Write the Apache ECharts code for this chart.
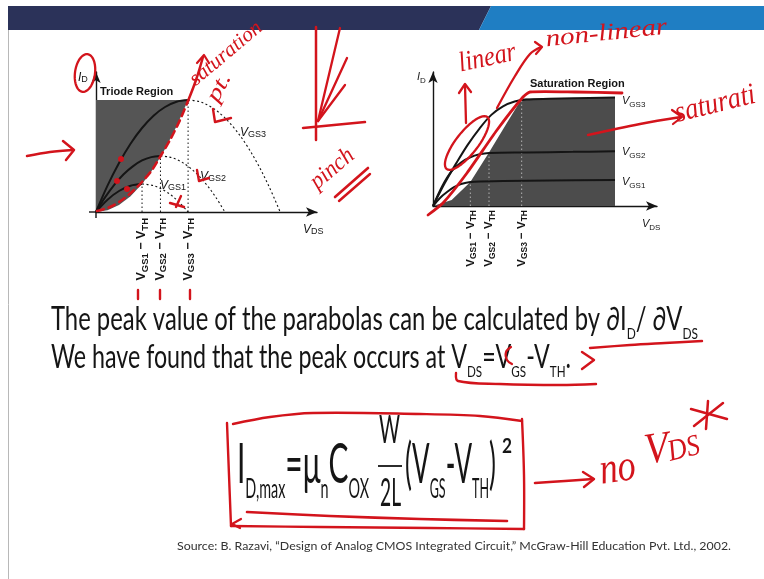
<!DOCTYPE html>
<html>
<head>
<meta charset="utf-8">
<script src="https://cdn.jsdelivr.net/npm/echarts@6/dist/echarts.min.js"></script>
<style>
  html, body { margin: 0; padding: 0; background: #ffffff; }
  #chart { width: 764px; height: 579px; }
</style>
</head>
<body>
<div id="chart"></div>
<script>
// ---------- Left panel: triode-region parabolas (VDS, ID in arbitrary units) ----------
const triodeSolid1 = [[0, 0], [0.25, 0.44], [0.5, 0.75], [0.75, 0.94], [1.0, 1.0]];
const triodeDotted1 = [[1.0, 1.0], [1.25, 0.94], [1.5, 0.75], [1.75, 0.44], [2.0, 0]];
const triodeSolid2 = [[0, 0], [0.2, 0.53], [0.4, 0.98], [0.6, 1.35], [0.8, 1.63], [1.0, 1.84], [1.2, 1.96], [1.4, 2.0]];
const triodeDotted2 = [[1.4, 2.0], [1.6, 1.96], [1.8, 1.84], [2.0, 1.63], [2.2, 1.35], [2.4, 0.98], [2.6, 0.53], [2.8, 0]];
const triodeSolid3 = [[0, 0], [0.25, 0.94], [0.5, 1.75], [0.75, 2.44], [1.0, 3.0], [1.25, 3.44], [1.5, 3.75], [1.75, 3.94], [2.0, 4.0]];
const triodeDotted3 = [[2.0, 4.0], [2.25, 3.94], [2.5, 3.75], [2.75, 3.44], [3.0, 3.0], [3.25, 2.44], [3.5, 1.75], [3.75, 0.94], [4.0, 0]];
const triodePeaks = [[1.0, 1.0], [1.4, 2.0], [2.0, 4.0]];
// triode region: bounded by the peak locus and the top current level
const triodeShade = [[0, 0], [0.25, 0.06], [0.5, 0.25], [0.75, 0.56], [1.0, 1.0], [1.25, 1.56], [1.5, 2.25], [1.75, 3.06], [2.0, 4.0], [0, 4.0]];

// ---------- Right panel: output characteristics with saturation region ----------
const satCurve1 = [[0, 0], [0.15, 0.3], [0.3, 0.52], [0.45, 0.7], [0.6, 0.82], [0.8, 0.9], [1.5, 0.93], [2.5, 0.95], [3.9, 0.97]];
const satCurve2 = [[0, 0], [0.2, 0.75], [0.4, 1.3], [0.6, 1.62], [0.8, 1.82], [1.0, 1.93], [1.2, 1.98], [2.0, 2.0], [3.0, 2.02], [3.9, 2.04]];
const satCurve3 = [[0, 0], [0.25, 0.85], [0.5, 1.6], [0.75, 2.3], [1.0, 2.9], [1.25, 3.4], [1.5, 3.72], [1.75, 3.9], [2.0, 3.97], [2.5, 4.0], [3.0, 4.02], [3.9, 4.05]];
const satKnees = [[0.8, 0.9], [1.2, 2.0], [1.9, 4.0]];
const satShade = [[0, 0], [0.4, 0.22], [0.8, 0.9], [1.2, 2.0], [1.55, 3.0], [1.9, 4.0], [3.9, 4.05], [3.9, 0]];

// ---------- Labels ----------
const overdriveLabels = ['{v|V}{s|GS1}{v| \u2212 V}{s|TH}', '{v|V}{s|GS2}{v| \u2212 V}{s|TH}', '{v|V}{s|GS3}{v| \u2212 V}{s|TH}'];
const gateLabels = ['GS1', 'GS2', 'GS3'];
const textLine1 = [['The peak value of the parabolas can be calculated by \u2202I', 'm'], ['D', 's'], ['/ \u2202V', 'm'], ['DS', 's']];
const textLine2 = [['We have found that the peak occurs at V', 'm'], ['DS', 's'], ['=V', 'm'], ['GS', 's'], ['-V', 'm'], ['TH', 's'], ['.', 'm']];
const formulaLeft = [['I', 'M'], ['D,max', 'S'], ['=\u03bc', 'M'], ['n', 'S'], ['C', 'M'], ['OX', 'S']];
const formulaRight = [['(V', 'M'], ['GS', 'S'], ['-V', 'M'], ['TH', 'S'], [')', 'M']];
const sourceText = 'Source: B. Razavi, \u201cDesign of Analog CMOS Integrated Circuit,\u201d McGraw-Hill Education Pvt. Ltd., 2002.';

const TEXT_FONT = 'Lato';
const CHART_FONT = 'Liberation Sans';
const HAND_FONT = 'Liberation Serif';
const RED = '#d3141c';
const INK = '#151515';

// ---------- text helpers ----------
const mctx = document.createElement('canvas').getContext('2d');
function textWidth(str, size, family, weight, style) {
  mctx.font = (style || 'normal') + ' ' + (weight || 'normal') + ' ' + size + 'px ' + family;
  return mctx.measureText(str).width;
}
// offset between canvas "middle" and the alphabetic baseline, per font (in em)
const MID = { 'Lato': 0.387, 'Liberation Sans': 0.347, 'Liberation Serif': 0.35 };

// a row of runs on one baseline, squeezed to span x0..x1
function runRow(runs, sizes, x0, x1, baseline, family, color) {
  const w = runs.map(r => textWidth(r[0], sizes[r[1]].size, family, sizes[r[1]].weight));
  const k = (x1 - x0) / w.reduce((a, b) => a + b, 0);
  let cx = x0;
  return runs.map((r, i) => {
    const s = sizes[r[1]];
    const el = {
      type: 'text', x: cx, y: baseline + (s.dy || 0) - MID[family] * s.size, scaleX: k, z: 10,
      style: { text: r[0], fontSize: s.size, fontFamily: family, fontWeight: s.weight || 'normal',
        fill: color, align: 'left', verticalAlign: 'middle' }
    };
    cx += w[i] * k;
    return el;
  });
}

// handwritten strokes
function hand(points, width, smooth) {
  return {
    type: 'polyline', z: 50, silent: true,
    shape: { points: points, smooth: smooth === undefined ? 0.35 : smooth },
    style: { stroke: RED, lineWidth: width || 2.5, lineCap: 'round', lineJoin: 'round', fill: null }
  };
}
function handDash(points) {
  const el = hand(points, 2.6, 0.3);
  el.style.lineDash = [7, 5];
  return el;
}
function handEllipse(cx, cy, rx, ry, rotDeg) {
  const a = rotDeg * Math.PI / 180;
  const pts = [];
  for (let i = 0; i <= 48; i++) {
    const t = i / 48 * 2 * Math.PI;
    const x = rx * Math.cos(t), y = ry * Math.sin(t);
    pts.push([cx + x * Math.cos(a) + y * Math.sin(a), cy - x * Math.sin(a) + y * Math.cos(a)]);
  }
  return hand(pts, 2.3, 0);
}
function handText(t, x, y, size, rotDeg, targetW) {
  const w = textWidth(t, size, HAND_FONT, 'normal', 'italic');
  return {
    type: 'text', x: x, y: y, rotation: rotDeg * Math.PI / 180, scaleX: targetW / w, z: 50, silent: true,
    style: { text: t, fontSize: size, fontFamily: HAND_FONT, fontStyle: 'italic', fill: RED,
      align: 'left', verticalAlign: 'bottom' }
  };
}
function dot(x, y) {
  return { type: 'circle', z: 50, shape: { cx: x, cy: y, r: 3 }, style: { fill: RED } };
}
function chartText(text, x, y, rich, align) {
  return { type: 'text', x: x, y: y, z: 12,
    style: { text: text, rich: rich, align: align || 'left', verticalAlign: 'middle' } };
}

// ---------- chart series ----------
function curve(gi, data, dotted, width) {
  return {
    type: 'line', xAxisIndex: gi, yAxisIndex: gi, data: data, showSymbol: false, silent: true,
    smooth: 0.35, z: 4, animation: false,
    lineStyle: { color: INK, width: width, type: dotted ? [2, 2.5] : 'solid' }
  };
}
function drop(gi, pt, color) {
  return {
    type: 'line', xAxisIndex: gi, yAxisIndex: gi, data: [[pt[0], 0], pt], showSymbol: false,
    silent: true, z: 3, lineStyle: { color: color, width: 1, type: [1.5, 2.5] }
  };
}
function region(gi, pts, fill) {
  return {
    type: 'custom', xAxisIndex: gi, yAxisIndex: gi, silent: true, z: 1, data: [[0, 0]],
    renderItem: function (params, api) {
      return { type: 'polygon', shape: { points: pts.map(p => api.coord(p)) }, style: { fill: fill } };
    }
  };
}
function overdriveTicks(gi, knees, gap, size, sub) {
  return {
    type: 'custom', xAxisIndex: gi, yAxisIndex: gi, silent: true, z: 5,
    data: knees.map((k, i) => [k[0], 0, i]),
    renderItem: function (params, api) {
      const p = api.coord([api.value(0), 0]);
      return {
        type: 'text', x: p[0], y: p[1] + gap, rotation: Math.PI / 2,
        style: {
          text: overdriveLabels[api.value(2)], align: 'right', verticalAlign: 'middle',
          rich: {
            v: { fontSize: size, fontWeight: 'bold', fontFamily: CHART_FONT, fill: INK, lineHeight: size + 4 },
            s: { fontSize: sub, fontWeight: 'bold', fontFamily: CHART_FONT, fill: INK, lineHeight: sub, verticalAlign: 'bottom' }
          }
        }
      };
    }
  };
}
function xAxisOf(gi) {
  return {
    type: 'value', gridIndex: gi, min: 0, max: 4.8,
    axisLine: { show: true, symbol: ['none', 'arrow'], symbolSize: [7, 11], lineStyle: { color: INK, width: 1.4 } },
    axisTick: { show: false }, axisLabel: { show: false }, splitLine: { show: false }
  };
}
function yAxisOf(gi) {
  return {
    type: 'value', gridIndex: gi, min: 0, max: 5,
    axisLine: { show: true, symbol: ['none', 'arrow'], symbolSize: [7, 11], lineStyle: { color: INK, width: 1.4 } },
    axisTick: { show: false }, axisLabel: { show: false }, splitLine: { show: false }
  };
}

// ---------- static graphics ----------
const labelRich = {
  v: { fontSize: 12, fontFamily: CHART_FONT, fontStyle: 'italic', fill: INK },
  s: { fontSize: 9, fontFamily: CHART_FONT, fill: INK, verticalAlign: 'bottom', lineHeight: 9 }
};
const labelRichSmall = {
  v: { fontSize: 11, fontFamily: CHART_FONT, fontStyle: 'italic', fill: INK, lineHeight: 15 },
  s: { fontSize: 8, fontFamily: CHART_FONT, fill: INK, verticalAlign: 'bottom', lineHeight: 8 }
};
const boldTitle = { t: { fontSize: 11, fontWeight: 'bold', fontFamily: CHART_FONT, fill: INK } };

const elements = [];

// banner and page border
elements.push({ type: 'polygon', z: 0, shape: { points: [[8, 6], [491, 6], [479, 30], [8, 30]] }, style: { fill: '#2b3259' } });
elements.push({ type: 'polygon', z: 0, shape: { points: [[491, 6], [764, 6], [764, 30], [479, 30]] }, style: { fill: '#1f7ec3' } });
elements.push({ type: 'line', z: 0, shape: { x1: 8.5, y1: 30, x2: 8.5, y2: 579 }, style: { stroke: '#b8b8b8', lineWidth: 1 } });

// short axis stubs past the origin of the left panel
elements.push({ type: 'line', z: 6, shape: { x1: 89, y1: 212, x2: 96, y2: 212 }, style: { stroke: INK, lineWidth: 1.4 } });
elements.push({ type: 'line', z: 6, shape: { x1: 96, y1: 212, x2: 96, y2: 218 }, style: { stroke: INK, lineWidth: 1.4 } });

// panel titles and axis names
elements.push(chartText('{t|Triode Region}', 100, 92, boldTitle));
elements.push(chartText('{t|Saturation Region}', 530, 84, boldTitle));
elements.push(chartText('{v|I}{s|D}', 78, 78, labelRich));
elements.push(chartText('{v|I}{s|D}', 417, 77, labelRichSmall));
elements.push(chartText('{v|V}{s|DS}', 303, 230, labelRich));
elements.push(chartText('{v|V}{s|DS}', 642, 224, labelRichSmall));
elements.push(chartText('{v|V}{s|' + gateLabels[2] + '}', 240, 133, labelRich));
elements.push(chartText('{v|V}{s|' + gateLabels[1] + '}', 200, 177, labelRich));
elements.push(chartText('{v|V}{s|' + gateLabels[0] + '}', 160, 186, labelRich));
elements.push(chartText('{v|V}{s|' + gateLabels[2] + '}', 622, 101, labelRichSmall));
elements.push(chartText('{v|V}{s|' + gateLabels[1] + '}', 622, 152, labelRichSmall));
elements.push(chartText('{v|V}{s|' + gateLabels[0] + '}', 622, 182, labelRichSmall));

// body text
const bodySizes = { m: { size: 32 }, s: { size: 16, dy: 8 } };
runRow(textLine1, bodySizes, 51, 698, 332, TEXT_FONT, INK).forEach(e => elements.push(e));
runRow(textLine2, bodySizes, 51, 571, 370, TEXT_FONT, INK).forEach(e => elements.push(e));

// formula
const fSizes = { M: { size: 56 }, S: { size: 27, dy: 13 }, F: { size: 38 }, P: { size: 20, weight: 'bold' } };
runRow(formulaLeft, fSizes, 237, 369, 487, TEXT_FONT, INK).forEach(e => elements.push(e));
runRow([['W', 'F']], fSizes, 379, 400, 445, TEXT_FONT, INK).forEach(e => elements.push(e));
runRow([['2L', 'F']], fSizes, 380, 401, 508, TEXT_FONT, INK).forEach(e => elements.push(e));
elements.push({ type: 'line', z: 10, shape: { x1: 378, y1: 466, x2: 402, y2: 466 }, style: { stroke: INK, lineWidth: 1.8 } });
runRow(formulaRight, fSizes, 405, 496, 487, TEXT_FONT, INK).forEach(e => elements.push(e));
runRow([['2', 'P']], fSizes, 502, 512, 454, TEXT_FONT, INK).forEach(e => elements.push(e));

// citation
runRow([[sourceText, 'c']], { c: { size: 12 } }, 177, 731, 551, TEXT_FONT, '#333333').forEach(e => elements.push(e));

// ---------- handwritten annotations ----------
// left panel
elements.push(handEllipse(85, 73, 10, 19, -8));
elements.push(hand([[27, 156], [50, 152], [73, 150]], 2.5));
elements.push(hand([[63, 141], [74, 150], [66, 160]], 2.5, 0));
elements.push(handDash([[97, 211], [110, 207], [122, 200], [133, 191], [142, 182], [152, 170], [160, 157], [170, 140], [180, 120], [188, 101]]));
elements.push(hand([[188, 101], [196, 80], [203, 57]], 2.5));
elements.push(hand([[197, 63], [204, 55], [209, 63]], 2.2, 0));
elements.push(dot(121, 159));
elements.push(dot(117, 181));
elements.push(dot(127, 189));
elements.push(hand([[213, 109], [215, 122], [231, 118]], 2.4, 0));
elements.push(hand([[197, 170], [199, 181], [209, 178]], 2.4, 0));
elements.push(hand([[181, 196], [176, 207]], 2.4, 0));
elements.push(hand([[170, 203], [184, 207]], 2.4, 0));
elements.push(hand([[138, 290], [138, 299]], 2.4, 0));
elements.push(hand([[160, 290], [160, 299]], 2.4, 0));
elements.push(hand([[190, 290], [190, 299]], 2.4, 0));
elements.push(handText('saturation', 199, 90, 21, 40, 88));
elements.push(handText('pt.', 222, 106, 22, 62, 30));

// pinch-off sketch between the panels
elements.push(hand([[316, 27], [316, 84], [316, 140]], 2.5, 0));
elements.push(hand([[303, 128], [334, 125], [365, 122]], 2.5, 0));
elements.push(hand([[318, 121], [340, 28]], 2.3, 0));
elements.push(hand([[318, 121], [347, 58]], 2.3, 0));
elements.push(hand([[318, 121], [345, 85]], 2.3, 0));
elements.push(handText('pinch', 321, 194, 24, 40, 50));
elements.push(hand([[335, 197], [368, 168]], 2.6, 0));
elements.push(hand([[339, 201], [370, 174]], 2.4, 0));

// right panel
elements.push(hand([[428, 215], [443, 203], [467, 173], [497, 130], [523, 97], [530, 92], [575, 92], [622, 93]], 2.8, 0.2));
elements.push(handEllipse(467, 143, 33, 11, 52));
elements.push(hand([[466, 123], [465, 85]], 2.3, 0));
elements.push(hand([[459, 93], [465, 84], [471, 92]], 2.3, 0));
elements.push(handText('linear', 462, 78, 28, 12, 58));
elements.push(hand([[497, 108], [515, 76], [530, 54], [541, 47]], 2.3));
elements.push(hand([[535, 42], [542, 47], [536, 54]], 2.2, 0));
elements.push(handText('non-linear', 547, 52, 24, 6, 122));
elements.push(hand([[588, 135], [640, 124], [681, 117]], 2.4));
elements.push(hand([[672, 110], [682, 117], [673, 124]], 2.2, 0));
elements.push(handText('saturati', 679, 129, 30, 14, 82));

// body text marks
elements.push(hand([[590, 348], [630, 345], [665, 343], [702, 341]], 2.4));
elements.push(hand([[511, 347], [506, 352], [507, 360], [512, 364]], 2.2));
elements.push(hand([[582, 352], [594, 360], [582, 369]], 2.4, 0));
elements.push(hand([[456, 373], [458, 381], [500, 384], [560, 385], [596, 384]], 2.4));

// formula box
elements.push(hand([[233, 424], [270, 417], [313, 413], [420, 414], [480, 416], [522, 421]], 2.4));
elements.push(hand([[227, 423], [229, 475], [231, 526]], 2.4));
elements.push(hand([[522, 419], [524, 475], [524, 529]], 2.4));
elements.push(hand([[231, 526], [320, 527], [430, 528], [524, 529]], 2.4));
elements.push(hand([[247, 512], [330, 516], [420, 519], [507, 521]], 2.6));
elements.push(hand([[241, 519], [232, 524], [240, 528]], 2.2, 0));

// "no VDS" note
elements.push(hand([[535, 483], [565, 481], [593, 479]], 2.6));
elements.push(hand([[583, 472], [594, 479], [584, 487]], 2.4, 0));
elements.push(handText('no', 603, 494, 44, 8, 36));
elements.push(handText('V', 648, 474, 44, 8, 24));
elements.push(handText('DS', 672, 468, 30, 14, 32));
elements.push(hand([[708, 401], [706, 429]], 2.5, 0));
elements.push(hand([[691, 409], [727, 419]], 2.5, 0));
elements.push(hand([[694, 426], [723, 403]], 2.5, 0));

// ---------- option ----------
const chart = echarts.init(document.getElementById('chart'), null, { renderer: 'canvas' });
chart.setOption({
  animation: false,
  backgroundColor: '#ffffff',
  grid: [
    { left: 96, top: 72, width: 221, height: 140 },
    { left: 433, top: 72, width: 224, height: 134 }
  ],
  xAxis: [xAxisOf(0), xAxisOf(1)],
  yAxis: [yAxisOf(0), yAxisOf(1)],
  series: [
    region(0, triodeShade, '#555555'),
    curve(0, triodeSolid1, false, 2),
    curve(0, triodeSolid2, false, 2),
    curve(0, triodeSolid3, false, 2),
    curve(0, triodeDotted1, true, 1.1),
    curve(0, triodeDotted2, true, 1.1),
    curve(0, triodeDotted3, true, 1.1),
    drop(0, triodePeaks[0], INK),
    drop(0, triodePeaks[1], INK),
    drop(0, triodePeaks[2], INK),
    overdriveTicks(0, triodePeaks, 6, 12.5, 9.5),

    region(1, satShade, '#4c4c4c'),
    drop(1, satKnees[0], '#b0b0b0'),
    drop(1, satKnees[1], '#b0b0b0'),
    drop(1, satKnees[2], '#b0b0b0'),
    curve(1, satCurve1, false, 2),
    curve(1, satCurve2, false, 2),
    curve(1, satCurve3, false, 2),
    overdriveTicks(1, satKnees, 4, 11.5, 8.5)
  ],
  graphic: { elements: elements }
});
</script>
</body>
</html>
